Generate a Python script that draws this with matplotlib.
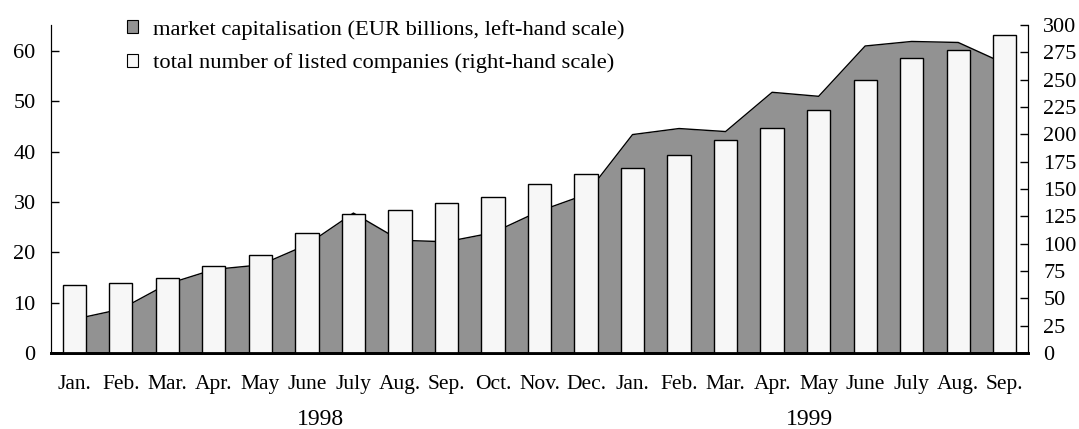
import numpy as np
import matplotlib
matplotlib.use("Agg")
from matplotlib import pyplot as plt
from matplotlib.patches import Patch

# data
months = ["Jan.", "Feb.", "Mar.", "Apr.", "May", "June", "July", "Aug.", "Sep.",
          "Oct.", "Nov.", "Dec.",
          "Jan.", "Feb.", "Mar.", "Apr.", "May", "June", "July", "Aug.", "Sep."]
market_cap = [6.7, 8.7, 13.7, 16.6, 17.5, 21.5, 27.8, 22.4, 22.1, 23.9, 28.2, 31.5,
              43.4, 44.6, 44.0, 51.8, 51.0, 61.0, 61.9, 61.7, 57.5]
listed = [62, 64, 69, 80, 90, 110, 127, 131, 137, 143, 155, 164,
          169, 181, 195, 206, 222, 250, 270, 277, 291]
years = ["1998", "1999"]
year_pos = [5.3, 15.8]

plt.rcParams["font.family"] = ["Liberation Serif", "DejaVu Serif"]
plt.rcParams["font.size"] = 16

fig = plt.figure(figsize=(10.79, 4.29), dpi=100)
ax = fig.add_axes([51 / 1079, 76 / 429, 977 / 1079, 328 / 429])
x = np.arange(len(months))

# area for market capitalisation (left scale)
ax.fill_between(x, market_cap, 0, color="#929292", lw=0)
ax.plot(x, market_cap, color="black", lw=1)
ax.set_xlim(-0.5, len(months) - 0.5)
ax.set_ylim(0, 65.17)
ax.set_yticks(range(0, 61, 10))

# bars for listed companies (right scale)
ax2 = ax.twinx()
ax2.bar(x, listed, width=0.5, color="#f7f7f7", edgecolor="black", lw=1)
ax2.set_ylim(0, 300)
ax2.set_yticks(range(0, 301, 25))

for a in (ax, ax2):
    a.spines["top"].set_visible(False)
    a.spines["bottom"].set_linewidth(2)
    a.tick_params(axis="y", direction="in", length=6, width=1, labelsize=16, pad=11)
    a.tick_params(axis="x", length=0)

ax.set_xticks(x)
ax.set_xticklabels(months, fontsize=15.5)
ax.tick_params(axis="x", pad=16)
for pos, yr in zip(year_pos, years):
    ax.text(pos, -0.2195, yr, transform=ax.get_xaxis_transform(), ha="center",
            va="baseline", fontsize=17)

handles = [Patch(facecolor="#929292", edgecolor="black", lw=0.8),
           Patch(facecolor="#f7f7f7", edgecolor="black", lw=0.8)]
labels = ["market capitalisation (EUR billions, left-hand scale)",
          "total number of listed companies (right-hand scale)"]
ax2.legend(handles, labels, loc="upper left", bbox_to_anchor=(0.057, 1.078),
           frameon=False, handlelength=0.5, handleheight=0.5, handletextpad=0.65,
           labelspacing=0.62, fontsize=16.2)

fig.savefig("out.png", dpi=100)
